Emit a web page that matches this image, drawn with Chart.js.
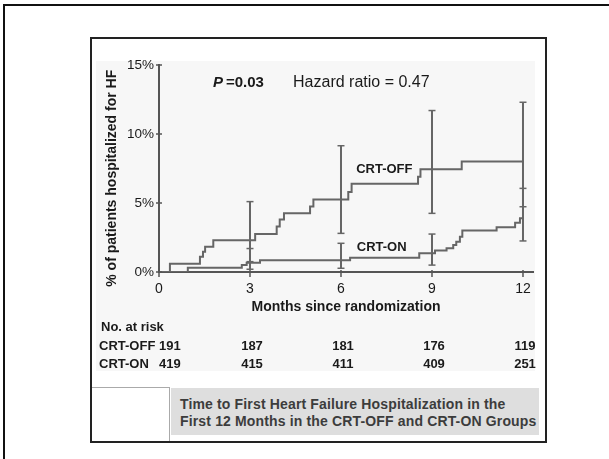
<!DOCTYPE html>
<html><head><meta charset="utf-8">
<script src="https://cdn.jsdelivr.net/npm/chart.js@4.4.0/dist/chart.umd.min.js"></script>
<style>
html,body{margin:0;padding:0;background:#fff;overflow:hidden;width:609px;height:459px;}
#topline{position:absolute;left:3px;top:4px;width:606px;height:2px;background:#111;}
#leftline{position:absolute;left:3px;top:4px;width:2px;height:455px;background:#111;}
#inner{position:absolute;left:90px;top:37px;width:457px;height:406px;border:2px solid #222;box-sizing:border-box;background:#fff;}
#panel{position:absolute;left:96px;top:61px;width:439px;height:310px;background:#f7f7f7;}
#corner{position:absolute;left:92px;top:387px;width:78px;height:54px;border-top:1px solid #aaa;border-right:1px solid #aaa;box-sizing:border-box;background:#fff;}
#caption{position:absolute;left:171px;top:388px;width:368px;height:47px;background:#dedede;color:#3c3c3c;font:bold 14px "Liberation Sans",Arial,sans-serif;letter-spacing:0.15px;line-height:16.5px;padding:8px 0 0 9px;box-sizing:border-box;white-space:nowrap;overflow:hidden;}
#c{position:absolute;left:0;top:0;}
</style></head><body>
<div id="topline"></div>
<div id="leftline"></div>
<div id="inner"></div>
<div id="panel"></div>
<div id="corner"></div>
<div id="caption">Time to First Heart Failure Hospitalization in the<br>First 12 Months in the CRT-OFF and CRT-ON Groups</div>
<canvas id="c" width="609" height="459"></canvas>
<script>
const xTicks=[0,3,6,9,12];
const yTicks=[0,5,10,15];
const offTimes=[0,0.36,1.35,1.45,1.52,1.79,3.17,3.88,3.98,4.12,4.98,5.09,6.24,6.35,8.54,8.62,9.98,12];
const offValues=[0,0.6,1.1,1.47,1.83,2.3,2.75,3.3,3.8,4.25,4.75,5.25,5.8,6.4,6.9,7.45,8.0,8.0];
const onTimes=[0,0.95,2.73,2.89,3.33,6.3,8.58,9.1,9.48,9.7,9.8,9.92,10.0,11.13,11.74,11.9,12];
const onValues=[0,0.3,0.5,0.67,0.85,1.04,1.35,1.55,1.72,1.96,2.2,2.56,3.0,3.24,3.57,3.89,3.89];
const ciMonths=[3,6,9,12];
const offLow=[0.75,2.8,4.25,4.73];
const offHigh=[5.1,9.15,11.7,12.3];
const onLow=[0.2,0.27,0.5,2.25];
const onHigh=[1.7,2.08,2.75,6.06];
const riskMonths=[0,3,6,9,12];
const riskOff=[191,187,181,176,119];
const riskOn=[419,415,411,409,251];

const FONT='"Liberation Sans", Arial, sans-serif';
const GRAY='#666';
const toXY=(t,v)=>t.map((m,i)=>({x:m,y:v[i]}));
const ciData=(lo,hi)=>ciMonths.flatMap((m,i)=>[{x:m,y:lo[i]},{x:m,y:hi[i]},{x:m,y:null}]);

const decor={id:'decor',afterDraw(chart){
  const {ctx,chartArea:a,scales:{x,y}}=chart;
  ctx.save();
  ctx.strokeStyle='#555';ctx.lineWidth=1.5;
  xTicks.forEach(v=>{const px=x.getPixelForValue(v);ctx.beginPath();ctx.moveTo(px,a.bottom-2);ctx.lineTo(px,a.bottom+5);ctx.stroke();});
  yTicks.forEach(v=>{const py=y.getPixelForValue(v);ctx.beginPath();ctx.moveTo(a.left-3,py);ctx.lineTo(a.left+3,py);ctx.stroke();});
  ctx.fillStyle='#1a1a1a';ctx.textBaseline='middle';ctx.textAlign='left';
  let px=x.getPixelForValue(1.78), py=y.getPixelForValue(13.7);
  ctx.font='italic bold 15px '+FONT;ctx.fillText('P',px,py);
  const wP=ctx.measureText('P').width;
  ctx.font='bold 15px '+FONT;ctx.fillText('=0.03',px+wP+3,py);
  ctx.font='16px '+FONT;ctx.fillText('Hazard ratio = 0.47',x.getPixelForValue(4.42),py);
  ctx.font='bold 13px '+FONT;
  ctx.fillText('CRT-OFF',x.getPixelForValue(6.5),y.getPixelForValue(7.4));
  ctx.fillText('CRT-ON',x.getPixelForValue(6.52),y.getPixelForValue(1.8));
  ctx.fillText('No. at risk',101,327);
  ctx.fillText('CRT-OFF',99,346.5);
  ctx.fillText('CRT-ON',99,364.5);
  riskMonths.forEach((m,i)=>{
    const p=x.getPixelForValue(m);
    ctx.textAlign=i===0?'left':'center';
    const xx=i===0?p:p+2;
    ctx.fillText(String(riskOff[i]),xx,346.5);
    ctx.fillText(String(riskOn[i]),xx,364.5);
  });
  ctx.restore();
}};

new Chart(document.getElementById('c'),{
  type:'line',
  data:{datasets:[
    {label:'CRT-OFF',data:toXY(offTimes,offValues),stepped:'before',borderColor:GRAY,borderWidth:2,pointRadius:0,fill:false},
    {label:'CRT-ON',data:toXY(onTimes,onValues),stepped:'before',borderColor:GRAY,borderWidth:2,pointRadius:0,fill:false},
    {label:'CRT-OFF CI',data:ciData(offLow,offHigh),borderColor:GRAY,borderWidth:2,pointStyle:'line',pointRadius:3.5,pointBorderWidth:1.5,pointBorderColor:GRAY,spanGaps:false},
    {label:'CRT-ON CI',data:ciData(onLow,onHigh),borderColor:GRAY,borderWidth:2,pointStyle:'line',pointRadius:3.5,pointBorderWidth:1.5,pointBorderColor:GRAY,spanGaps:false}
  ]},
  options:{
    responsive:false,animation:false,
    layout:{padding:{left:100,top:65,right:76,bottom:141}},
    plugins:{legend:{display:false},tooltip:{enabled:false}},
    elements:{line:{tension:0}},
    scales:{
      x:{type:'linear',min:0,max:12.33,
        afterBuildTicks:s=>{s.ticks=xTicks.map(v=>({value:v}));},
        afterFit:s=>{s.height=46;},
        grid:{display:false,drawTicks:false},
        border:{display:true,color:'#555',width:2},
        ticks:{autoSkip:false,padding:9,color:'#1a1a1a',font:{family:FONT,size:14},maxRotation:0},
        title:{display:true,text:'Months since randomization',color:'#1a1a1a',font:{family:FONT,size:14,weight:'bold'},padding:{top:0,bottom:2}}
      },
      y:{type:'linear',min:0,max:15,
        afterBuildTicks:s=>{s.ticks=yTicks.map(v=>({value:v}));},
        afterFit:s=>{s.width=59;},
        grid:{display:false,drawTicks:false},
        border:{display:true,color:'#555',width:2},
        ticks:{padding:5,color:'#1a1a1a',font:{family:FONT,size:13.5},callback:v=>v+'%'},
        title:{display:true,text:'% of patients hospitalized for HF     ',color:'#1a1a1a',font:{family:FONT,size:14,weight:'bold'},padding:{top:4,bottom:4}}
      }
    }
  },
  plugins:[decor]
});
</script>
</body></html>
